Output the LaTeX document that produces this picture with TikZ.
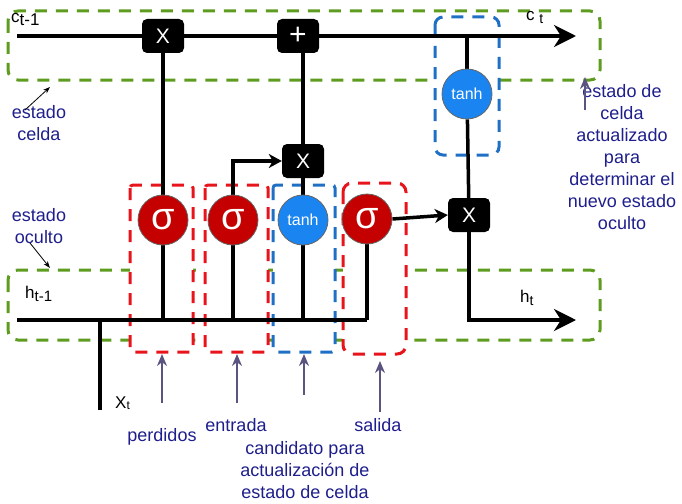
\documentclass[tikz,border=0pt]{standalone}
\usepackage{fontspec}
\setmainfont{Liberation Sans}
\usetikzlibrary{arrows.meta}
\pgfdeclarelayer{boxes}
\pgfdeclarelayer{lines}
\pgfsetlayers{boxes,lines,main}
\definecolor{gr}{HTML}{5E9C1F}
\definecolor{rd}{HTML}{E8141B}
\definecolor{bl}{HTML}{1F6FC5}
\definecolor{sigred}{HTML}{C40000}
\definecolor{tanhblue}{HTML}{1A85F0}
\definecolor{navytxt}{HTML}{1E1E8C}
\definecolor{annarr}{HTML}{5B5480}
\tikzset{
  op/.style={fill=black, rounded corners=5pt, minimum width=42pt, minimum height=34pt, text=white, font=\fontsize{21}{21}\selectfont, inner sep=0pt},
  sig/.style={circle, fill=sigred, draw=black!60, line width=0.8pt, minimum size=50pt, inner sep=0pt, text=white, font=\fontsize{38}{38}\selectfont},
  th/.style={circle, fill=tanhblue, draw=black!60, line width=0.8pt, minimum size=50pt, inner sep=0pt, text=white, font=\fontsize{16}{16}\selectfont},
  wire/.style={line width=3.5pt},
  bigarrow/.style={wire, -{Stealth[length=22pt,width=22pt,inset=7pt]}},
  smallarrow/.style={wire, -{Stealth[length=13pt,width=14pt,inset=4pt]}},
  gbox/.style={draw=gr, line width=3pt, dash pattern=on 12pt off 9pt, rounded corners=10pt},
  rbox/.style={draw=rd, fill=white, line width=3pt, dash pattern=on 12pt off 9pt, rounded corners=3pt},
  bbox/.style={draw=bl, fill=white, line width=3pt, dash pattern=on 12pt off 9pt, rounded corners=8pt},
  ann/.style={text=navytxt, font=\fontsize{18}{22}\selectfont, align=center, inner sep=0pt},
  lbl/.style={text=black, font=\fontsize{17}{17}\selectfont, inner sep=0pt},
  annarrow/.style={draw=annarr, line width=2pt, -{Stealth[length=12pt,width=10pt]}},
  thinarrow/.style={draw=black, line width=0.8pt, -{Stealth[length=7pt,width=5pt]}}
}
\begin{document}
\begin{tikzpicture}[x=1pt,y=-1pt]
\useasboundingbox (0,0) rectangle (682,503);

% operation nodes
\node[op] (fX) at (163,36) {X};
\node[op, font=\fontsize{30}{30}\selectfont] (plus) at (298,36) {+};
\node[op] (mX) at (303,161) {X};
\node[op] (oX) at (469,215) {X};
\node[sig] (sig1) at (163,220) {σ};
\node[sig] (sig2) at (233,220) {σ};
\node[th] (tanh2) at (303,220) {tanh};
\node[sig] (sig3) at (367,219) {σ};
\node[th] (tanh1) at (467,94) {tanh};

% coordinates
\coordinate (cin) at (17,36);
\coordinate (cout) at (576,36);
\coordinate (ctap) at (467,36);
\coordinate (hin) at (17,320);
\coordinate (hout) at (576,320);
\coordinate (j1) at (163,320);
\coordinate (j2) at (233,320);
\coordinate (j3) at (303,320);
\coordinate (j4) at (367,320);
\coordinate (xin) at (100,410);
\coordinate (xj) at (100,320);

% dashed boxes
\begin{pgfonlayer}{boxes}
\draw[gbox] (8,11) rectangle (600,80);
\draw[gbox] (8,270) rectangle (600,340);
\draw[rbox] (130,185) rectangle (193,352);
\draw[rbox] (205,185) rectangle (268,352);
\draw[bbox, rounded corners=3pt] (273,185) rectangle (335,352);
\draw[rbox, rounded corners=9pt] (343,183) rectangle (406,354);
\draw[bbox] (435,17) rectangle (499,155);
\end{pgfonlayer}

% wires
\begin{pgfonlayer}{lines}
\draw[bigarrow] (cin) -- (cout);
\draw[wire] (hin) -- (j4);
\draw[wire] (xin) -- (xj);
\draw[wire] (fX) -- (sig1);
\draw[wire] (sig1) -- (j1);
\draw[wire] (sig2) -- (j2);
\draw[smallarrow] (sig2.north) |- (mX.west);
\draw[wire] (tanh2) -- (j3);
\draw[wire] (tanh2) -- (mX);
\draw[wire] (mX) -- (mX |- plus);
\draw[wire] (sig3) -- (j4);
\draw[smallarrow] (sig3.east) -- (oX.west);
\draw[wire] (ctap) -- (tanh1);
\draw[wire] (tanh1) -- (oX);
\draw[bigarrow] (oX) |- (hout);
\end{pgfonlayer}

% variable labels
\node[lbl, anchor=west] (ctm1) at (11,19) {c\raisebox{-3pt}{t-1}};
\node[lbl, anchor=west] (ct) at (526,17) {c \raisebox{-3pt}{\fontsize{14}{14}\selectfont t}};
\node[lbl, anchor=west] (htm1) at (25,294) {h\raisebox{-3pt}{\fontsize{15}{15}\selectfont t-1}};
\node[lbl, anchor=west] (ht) at (520,298) {h\raisebox{-3pt}{\fontsize{14}{14}\selectfont t}};
\node[lbl, anchor=west] (xt) at (115,403) {X\raisebox{-1pt}{\fontsize{12}{12}\selectfont t}};

% annotations
\node[ann] (estcelda) at (39,123) {estado\\celda};
\node[ann] (estoculto) at (39,226) {estado\\oculto};
\node[ann] (estact) at (622,157) {estado de\\celda\\actualizado\\para\\determinar el\\nuevo estado\\oculto};
\node[ann] (perd) at (162,437) {perdidos};
\node[ann] (entr) at (236,425) {entrada};
\node[ann] (sal) at (378,425) {salida};
\node[ann] (cand) at (305,470) {candidato para\\actualización de\\estado de celda};

\coordinate (a1) at (25,110);
\coordinate (a1e) at (50,87);
\coordinate (a2) at (30,243);
\coordinate (a2e) at (50,268);
\draw[thinarrow] (a1) -- (a1e);
\draw[thinarrow] (a2) -- (a2e);

\coordinate (p1) at (162,403);
\coordinate (p1e) at (162,354);
\coordinate (p2) at (237,403);
\coordinate (p2e) at (237,354);
\coordinate (p3) at (304,395);
\coordinate (p3e) at (304,354);
\coordinate (p4) at (380,412);
\coordinate (p4e) at (380,361);
\coordinate (p5) at (585,110);
\coordinate (p5e) at (585,77);
\draw[annarrow] (p1) -- (p1e);
\draw[annarrow] (p2) -- (p2e);
\draw[annarrow] (p3) -- (p3e);
\draw[annarrow] (p4) -- (p4e);
\draw[annarrow] (p5) -- (p5e);
\end{tikzpicture}
\end{document}
